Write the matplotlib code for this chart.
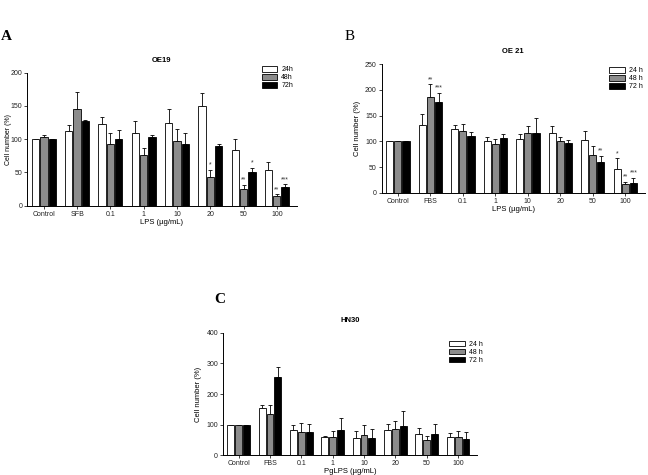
import numpy as np
import matplotlib
matplotlib.use("Agg")
import matplotlib.pyplot as plt
from matplotlib.patches import Patch

plt.rcParams['font.family'] = ['Liberation Sans', 'DejaVu Sans']

# ---- data ----
cats_a = ['Control', 'SFB', '0.1', '1', '10', '20', '50', '100']
cats_b = ['Control', 'FBS', '0.1', '1', '10', '20', '50', '100']
cats_c = ['Control', 'FBS', '0.1', '1', '10', '20', '50', '100']

a_24 = [100, 113, 123, 110, 125, 150, 83, 54]
a_24_err = [0, 9, 10, 18, 20, 20, 18, 12]
a_48 = [103, 145, 93, 76, 98, 43, 25, 15]
a_48_err = [4, 26, 17, 11, 17, 11, 6, 2]
a_72 = [100, 127, 100, 104, 93, 90, 50, 28]
a_72_err = [0, 2, 14, 2, 17, 3, 7, 4]
a_stars = [(5, 1, '*'), (6, 1, '**'), (6, 2, '*'), (7, 1, '**'), (7, 2, '***')]

b_24 = [100, 132, 124, 101, 104, 116, 103, 47]
b_24_err = [0, 21, 7, 7, 10, 14, 17, 20]
b_48 = [100, 187, 120, 94, 117, 101, 74, 17]
b_48_err = [0, 24, 14, 10, 12, 7, 17, 4]
b_72 = [100, 176, 111, 106, 117, 97, 60, 20]
b_72_err = [0, 18, 8, 8, 28, 5, 12, 9]
b_stars = [(1, 1, '**'), (1, 2, '***'), (6, 2, '**'), (7, 0, '*'), (7, 1, '**'), (7, 2, '***')]

c_24 = [100, 153, 82, 60, 57, 82, 68, 58]
c_24_err = [0, 12, 18, 4, 21, 20, 20, 13]
c_48 = [100, 135, 75, 58, 67, 85, 48, 60]
c_48_err = [0, 30, 30, 22, 32, 25, 15, 20]
c_72 = [100, 255, 75, 82, 57, 95, 68, 52]
c_72_err = [0, 33, 27, 38, 28, 50, 33, 22]


def panel(ax, cats, series, errs, stars, ymax, ystep, title, xlabel, labels, leg_pos):
    x = np.arange(len(cats))
    w = 0.22
    off = [-0.25, 0, 0.25]
    colors = ['white', '#8c8c8c', 'black']
    for i in range(3):
        ax.bar(x + off[i], series[i], w, color=colors[i], edgecolor='black', linewidth=0.6, zorder=2)
        ax.errorbar(x + off[i], series[i], yerr=[np.zeros(len(cats)), errs[i]],
                    fmt='none', ecolor='black', elinewidth=0.6, capsize=1.5, capthick=0.6, zorder=1)
    for ci, si, s in stars:
        top = series[si][ci] + errs[si][ci]
        ax.text(ci + off[si], top + ymax * 0.01, s, ha='center', va='bottom', fontsize=5, color='#333333')
    ax.set_xlim(-0.5, len(cats) - 0.4)
    ax.set_ylim(0, ymax)
    ax.set_yticks(np.arange(0, ymax + 1, ystep))
    ax.set_xticks(x)
    ax.set_xticklabels(cats)
    ax.tick_params(labelsize=5, length=2, width=0.6, pad=1.5, colors='#222222')
    for s in ['top', 'right']:
        ax.spines[s].set_visible(False)
    for s in ['left', 'bottom']:
        ax.spines[s].set_linewidth(0.7)
    ax.set_title(title, fontsize=5.5, fontweight='bold', pad=8)
    ax.set_xlabel(xlabel, fontsize=5.5, labelpad=1)
    ax.set_ylabel('Cell number (%)', fontsize=5.5, labelpad=3)
    handles = [Patch(facecolor=colors[i], edgecolor='black', linewidth=0.6) for i in range(3)]
    ax.legend(handles, labels, loc='upper left', bbox_to_anchor=leg_pos, frameon=False,
              fontsize=5, handlelength=2.2, handleheight=0.9, labelspacing=0.1,
              handletextpad=0.6, borderaxespad=0)


fig = plt.figure(figsize=(6.48, 4.75), dpi=100)

ax_a = fig.add_axes([0.042, 0.567, 0.416, 0.28])
panel(ax_a, cats_a, [a_24, a_48, a_72], [a_24_err, a_48_err, a_72_err], a_stars,
      200, 50, 'OE19', 'LPS (µg/mL)', ['24h', '48h', '72h'], (0.86, 1.07))
ax_a.yaxis.label.set_fontsize(5)
ax_a.yaxis.set_label_coords(-0.058, 0.5)

ax_b = fig.add_axes([0.589, 0.594, 0.406, 0.271])
panel(ax_b, cats_b, [b_24, b_48, b_72], [b_24_err, b_48_err, b_72_err], b_stars,
      250, 50, 'OE 21', 'LPS (µg/mL)', ['24 h', '48 h', '72 h'], (0.855, 1.0))

ax_c = fig.add_axes([0.344, 0.042, 0.392, 0.257])
panel(ax_c, cats_c, [c_24, c_48, c_72], [c_24_err, c_48_err, c_72_err], [],
      400, 100, 'HN30', 'PgLPS (µg/mL)', ['24 h', '48 h', '72 h'], (0.88, 0.96))

fig.text(0.002, 0.915, 'A', fontsize=11, fontweight='bold', family='Liberation Serif')
fig.text(0.532, 0.915, 'B', fontsize=11, family='Liberation Serif')
fig.text(0.33, 0.362, 'C', fontsize=11, fontweight='bold', family='Liberation Serif')

fig.savefig('out.png', dpi=100)
